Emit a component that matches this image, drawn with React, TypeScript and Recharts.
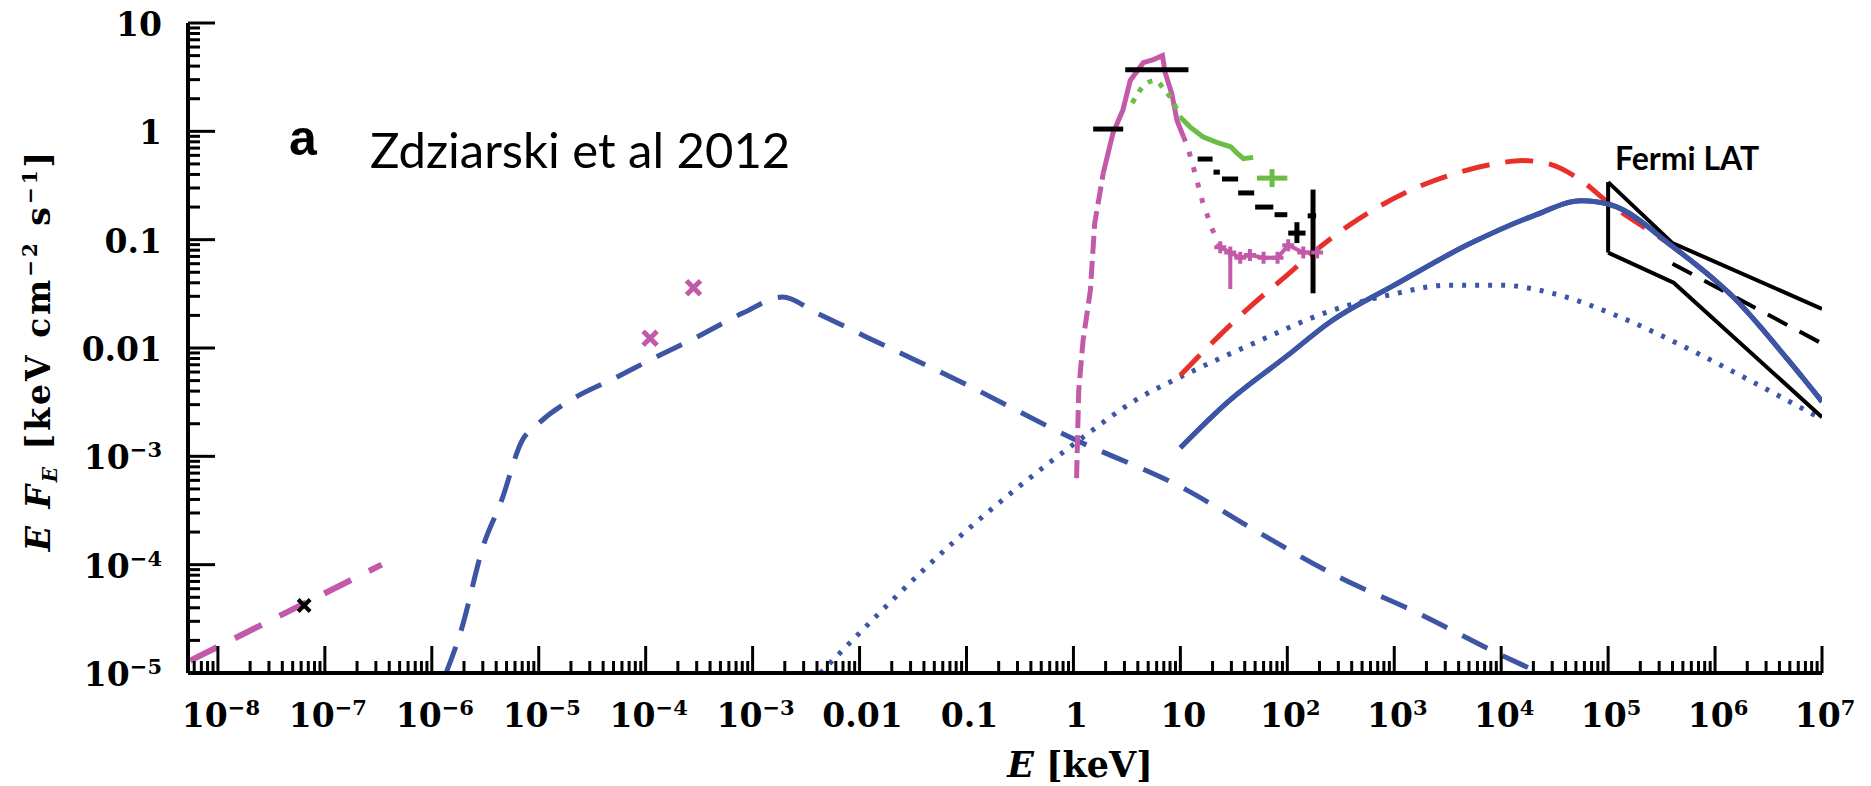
import React from 'react';
import { ComposedChart, Line, Scatter, XAxis, YAxis } from 'recharts';

const W = 1871;
const H = 786;
const X_MIN = 5.25e-9;
const X_MAX = 1e7;
const Y_MIN = 1e-5;
const Y_MAX = 10;

const BLUE = '#3c55a5';
const MAGENTA = '#c35aa9';
const RED = '#e8302a';
const GREEN = '#6cbd46';
const INK = '#000';
const SERIF = '"DejaVu Serif", serif';

// tick labels (decades)
const xTickPow = [-8, -7, -6, -5, -4, -3, -2, -1, 0, 1, 2, 3, 4, 5, 6, 7];
const xTickLabels = ['10^-8', '10^-7', '10^-6', '10^-5', '10^-4', '10^-3', '0.01', '0.1', '1', '10', '10^2', '10^3', '10^4', '10^5', '10^6', '10^7'];
const yTickPow = [-5, -4, -3, -2, -1, 0, 1];
const yTickLabels = ['10^-5', '10^-4', '10^-3', '0.01', '0.1', '1', '10'];

// [E keV, E F_E]
const opticalPL: [number, number][] = [[5.5e-9, 1.3e-5], [3.4e-7, 1.0e-4]];
const opticalPoint: [number, number][] = [[6.4e-8, 4.2e-5]];
const irPoints: [number, number][] = [[1.1e-4, 0.0123], [2.8e-4, 0.036]];

const jetSync: [number, number][] = [
  [1.36e-6, 1.0e-5], [1.84e-6, 2.3e-5], [3.1e-6, 1.6e-4], [4.4e-6, 3.7e-4], [7.0e-6, 1.4e-3],
  [9.9e-6, 2.0e-3], [2.2e-5, 3.5e-3], [5.0e-5, 5.2e-3], [1.2e-4, 8.1e-3], [3.0e-4, 0.0126],
  [8.1e-4, 0.021], [1.9e-3, 0.0295], [4.0e-3, 0.021], [0.0117, 0.0126], [0.091, 4.8e-3],
  [0.93, 1.5e-3], [11.4, 4.9e-4], [49, 2.1e-4], [294, 7.8e-5], [1740, 3.5e-5], [9500, 1.5e-5], [2.3e4, 1.0e-5],
];

const comptonDotted: [number, number][] = [
  [4.3e-3, 1.0e-5], [0.091, 1.9e-4], [1.1, 1.38e-3], [4, 3.4e-3], [10, 5.4e-3], [50, 0.0112],
  [251, 0.0219], [1000, 0.0316], [3160, 0.038], [1e4, 0.038], [3.16e4, 0.0316], [1.26e5, 0.0195],
  [6.3e5, 9.3e-3], [2.5e6, 4.6e-3], [1e7, 2.2e-3],
];

const comptonSolid: [number, number][] = [
  [10, 1.2e-3], [28, 3.2e-3], [100, 8.5e-3], [251, 0.0174], [1000, 0.038], [5000, 0.091],
  [2.0e4, 0.166], [5.6e4, 0.229], [1.07e5, 0.209], [4.1e5, 0.085], [1.48e6, 0.0295], [4.8e6, 7.8e-3], [1e7, 3.2e-3],
];

const hadronic: [number, number][] = [
  [10, 5.6e-3], [22.4, 0.0126], [44.7, 0.024], [91, 0.0437], [174, 0.076], [363, 0.132], [708, 0.2],
  [1585, 0.3], [3980, 0.417], [1e4, 0.513], [1.58e4, 0.537], [2.8e4, 0.5], [5.2e4, 0.37], [1.07e5, 0.209],
  [4.1e5, 0.085], [1.48e6, 0.0295], [4.8e6, 7.8e-3], [1e7, 3.2e-3],
];

// X-ray spectrum
const xrayRise: [number, number][] = [[1.07, 6.3e-4], [1.12, 4.0e-3], [1.23, 0.0117], [1.44, 0.034], [1.58, 0.141], [1.9, 0.41]];
const xrayPeak: [number, number][] = [
  [1.9, 0.41], [2.34, 0.96], [2.9, 1.57], [3.4, 2.95], [4.5, 4.3], [5.6, 4.6], [6.8, 5.0],
  [7.2, 3.5], [8.3, 2.24], [9.3, 1.26], [10.7, 0.89],
];
const xrayFall: [number, number][] = [[10.7, 0.89], [11.7, 0.72], [13.2, 0.47], [16.2, 0.22], [20, 0.123], [23.6, 0.085]];
const xrayHard: [number, number][] = [
  [23.6, 0.085], [29.3, 0.076], [36.3, 0.068], [44.7, 0.072], [60, 0.068], [81, 0.068], [102, 0.089], [141, 0.076], [190, 0.076],
];
const xrayHardBar: [number, number][] = [[29.3, 0.076], [29.3, 0.035]];

const softTailPeak: [number, number][] = [[3.55, 1.82], [4.0, 2.24], [4.9, 2.8], [5.9, 2.95], [6.9, 2.5], [8.1, 2.04], [10, 1.35]];
const softTail: [number, number][] = [
  [10, 1.35], [12.3, 1.1], [16.2, 0.89], [21.9, 0.79], [29.5, 0.72], [33.9, 0.63], [38.9, 0.56], [47.9, 0.575],
];
const softCross = { e: 72, f: 0.37, eLo: 52, eHi: 100 };

// [E lo, E hi, E F_E]
const blackBins: [number, number, number][] = [
  [1.53, 2.92, 1.05], [3.05, 11.9, 3.7], [14.5, 20, 0.555], [20.4, 23.4, 0.42],
  [24.5, 34.7, 0.363], [34.7, 49, 0.27], [50, 74, 0.2], [76, 100, 0.17],
];
const blackCross = { e: 123, f: 0.115, eLo: 102, eHi: 148, fLo: 0.093, fHi: 0.145 };
const blackBar = { e: 174, f: 0.166, fLo: 0.032, fHi: 0.29, eLo: 155, eHi: 186 };

// Fermi LAT butterfly
const fermiUpper: [number, number][] = [[1e5, 0.34], [4e5, 0.093], [1e7, 0.023]];
const fermiLower: [number, number][] = [[1e5, 0.076], [4.1e5, 0.04], [1e7, 0.0023]];
const fermiEdge: [number, number][] = [[1e5, 0.076], [1e5, 0.34]];
const fermiFit: [number, number][] = [[4e5, 0.06], [1e7, 0.011]];

const pts = (arr: [number, number][]) => arr.map(([e, f]) => ({ e, f }));

const logTicks = (lo: number, hi: number) => {
  const out: number[] = [];
  for (let p = Math.floor(Math.log10(lo)); p <= Math.ceil(Math.log10(hi)); p++) {
    for (let m = 1; m <= 9; m++) {
      const v = m * Math.pow(10, p);
      if (v >= lo * 0.9999 && v <= hi * 1.0001) out.push(v);
    }
  }
  return out;
};
const xTicks = logTicks(X_MIN, X_MAX);
const yTicks = logTicks(Y_MIN, Y_MAX);

const decade = (v: number) => {
  const l = Math.log10(v);
  return Math.abs(l - Math.round(l)) < 1e-6 ? Math.round(l) : null;
};

const MAJOR = 27;
const MINOR = 12;

function PowText({ x, y, text, anchor }: { x: number; y: number; text: string; anchor: 'start' | 'middle' | 'end' }) {
  const [base, exp] = text.split('^');
  return (
    <text x={x} y={y} textAnchor={anchor} fontFamily={SERIF} fontWeight="bold" fontSize={33} fill={INK}>
      {base}
      {exp !== undefined && (
        <tspan dy={-12} fontSize={21}>
          {exp.replace('-', '\u2212')}
        </tspan>
      )}
    </text>
  );
}

const bottomTick = (props: any) => {
  const { x, y, payload } = props;
  const d = decade(payload.value);
  const i = d === null ? -1 : xTickPow.indexOf(d);
  return (
    <g>
      <line x1={x} y1={y} x2={x} y2={y - (d !== null ? MAJOR : MINOR)} stroke={INK} strokeWidth={3} />
      {i >= 0 && <PowText x={x + 3} y={y + 54} text={xTickLabels[i]} anchor="middle" />}
    </g>
  );
};

const topTick = (props: any) => {
  const { x, y, payload } = props;
  const d = decade(payload.value);
  return <line x1={x} y1={y} x2={x} y2={y + (d !== null ? MAJOR : MINOR)} stroke={INK} strokeWidth={3} />;
};

const leftTick = (props: any) => {
  const { x, y, payload } = props;
  const d = decade(payload.value);
  const i = d === null ? -1 : yTickPow.indexOf(d);
  return (
    <g>
      <line x1={x} y1={y} x2={x + (d !== null ? MAJOR : MINOR)} y2={y} stroke={INK} strokeWidth={3} />
      {i >= 0 && <PowText x={x - 26} y={y + 13} text={yTickLabels[i]} anchor="end" />}
    </g>
  );
};

const rightTick = (props: any) => {
  const { x, y, payload } = props;
  const d = decade(payload.value);
  return <line x1={x} y1={y} x2={x - (d !== null ? MAJOR : MINOR)} y2={y} stroke={INK} strokeWidth={3} />;
};

const crossMark = (color: string, r: number, w: number) => (p: any) => (
  <path d={`M${p.cx - r},${p.cy - r}L${p.cx + r},${p.cy + r}M${p.cx - r},${p.cy + r}L${p.cx + r},${p.cy - r}`} stroke={color} strokeWidth={w} />
);

const plusMark = (color: string, rx: number, ry: number, w: number) => (p: any) => (
  <path d={`M${p.cx - rx},${p.cy}L${p.cx + rx},${p.cy}M${p.cx},${p.cy - ry}L${p.cx},${p.cy + ry}`} stroke={color} strokeWidth={w} />
);

const axisLine = { stroke: INK, strokeWidth: 4 };

export default function App() {
  const curve = (key: string, data: { e: number; f: number }[], color: string, width: number, dash?: string, type: 'linear' | 'monotone' = 'monotone') => (
    <Line
      key={key}
      data={data}
      dataKey="f"
      xAxisId="b"
      yAxisId="l"
      type={type}
      stroke={color}
      strokeWidth={width}
      strokeDasharray={dash}
      dot={false}
      activeDot={false}
      isAnimationActive={false}
    />
  );

  return (
    <div style={{ position: 'absolute', left: 0, top: 0, width: W, height: H, background: '#fff' }}>
      <ComposedChart width={W} height={H} margin={{ top: 23, right: 49, bottom: 0, left: 0 }}>
        <XAxis xAxisId="b" orientation="bottom" dataKey="e" type="number" scale="log" domain={[X_MIN, X_MAX]} allowDataOverflow
          ticks={xTicks} interval={0} tickSize={0} tickMargin={0} height={113} axisLine={axisLine} tickLine={false} tick={bottomTick} />
        <XAxis xAxisId="t" orientation="top" dataKey="e" type="number" scale="log" domain={[X_MIN, X_MAX]} allowDataOverflow
          ticks={xTicks} interval={0} tickSize={0} tickMargin={0} height={0} axisLine={axisLine} tickLine={false} tick={topTick} />
        <YAxis yAxisId="l" orientation="left" dataKey="f" type="number" scale="log" domain={[Y_MIN, Y_MAX]} allowDataOverflow
          ticks={yTicks} interval={0} tickSize={0} tickMargin={0} width={188} axisLine={axisLine} tickLine={false} tick={leftTick} />
        <YAxis yAxisId="r" orientation="right" dataKey="f" type="number" scale="log" domain={[Y_MIN, Y_MAX]} allowDataOverflow
          ticks={yTicks} interval={0} tickSize={0} tickMargin={0} width={0} axisLine={axisLine} tickLine={false} tick={rightTick} />

        {curve('optical', pts(opticalPL), MAGENTA, 6, '30 20', 'linear')}
        {curve('jet', pts(jetSync), BLUE, 5, '28 17')}
        {curve('dotted', pts(comptonDotted), BLUE, 5, '4 9')}
        {curve('hadronic', pts(hadronic), RED, 5, '28 16')}
        {curve('solid', pts(comptonSolid), BLUE, 5)}

        {curve('xrise', pts(xrayRise), MAGENTA, 5, '18 7', 'linear')}
        {curve('xpeak', pts(xrayPeak), MAGENTA, 5, undefined, 'linear')}
        {curve('xfall', pts(xrayFall), MAGENTA, 5, '5 11', 'linear')}
        {curve('xhard', pts(xrayHard), MAGENTA, 4, undefined, 'linear')}
        {curve('xbar', pts(xrayHardBar), MAGENTA, 4, undefined, 'linear')}
        <Scatter data={pts(xrayHard)} xAxisId="b" yAxisId="l" shape={plusMark(MAGENTA, 6, 6, 4)} isAnimationActive={false} />

        {curve('gpeak', pts(softTailPeak), GREEN, 5, '5 8')}
        {curve('gtail', pts(softTail), GREEN, 5, undefined, 'linear')}
        {curve('gcrossH', [{ e: softCross.eLo, f: softCross.f }, { e: softCross.eHi, f: softCross.f }], GREEN, 5, undefined, 'linear')}
        <Scatter data={[{ e: softCross.e, f: softCross.f }]} xAxisId="b" yAxisId="l" shape={plusMark(GREEN, 0, 9, 5)} isAnimationActive={false} />

        {blackBins.map(([lo, hi, f], i) => curve(`bin${i}`, [{ e: lo, f }, { e: hi, f }], INK, 5, undefined, 'linear'))}
        {curve('bcH', [{ e: blackCross.eLo, f: blackCross.f }, { e: blackCross.eHi, f: blackCross.f }], INK, 5, undefined, 'linear')}
        {curve('bcV', [{ e: blackCross.e, f: blackCross.fLo }, { e: blackCross.e, f: blackCross.fHi }], INK, 5, undefined, 'linear')}
        {curve('bbV', [{ e: blackBar.e, f: blackBar.fLo }, { e: blackBar.e, f: blackBar.fHi }], INK, 5, undefined, 'linear')}
        {curve('bbH', [{ e: blackBar.eLo, f: blackBar.f }, { e: blackBar.eHi, f: blackBar.f }], INK, 5, undefined, 'linear')}

        {curve('fu', pts(fermiUpper), INK, 4, undefined, 'linear')}
        {curve('fl', pts(fermiLower), INK, 4, undefined, 'linear')}
        {curve('fe', pts(fermiEdge), INK, 4, undefined, 'linear')}
        {curve('ff', pts(fermiFit), INK, 4, '22 14', 'linear')}
        {curve('solidTop', pts(comptonSolid), BLUE, 5)}

        <Scatter data={pts(opticalPoint)} xAxisId="b" yAxisId="l" shape={crossMark(INK, 6, 4)} isAnimationActive={false} />
        <Scatter data={pts(irPoints)} xAxisId="b" yAxisId="l" shape={crossMark(MAGENTA, 7, 5)} isAnimationActive={false} />
      </ComposedChart>

      <svg width={W} height={H} style={{ position: 'absolute', left: 0, top: 0, pointerEvents: 'none' }}>
        <text x={303} y={155} textAnchor="middle" fontFamily='"Liberation Sans", sans-serif' fontWeight="bold" fontSize={50}>a</text>
        <text x={370} y={168} fontFamily="Lato, sans-serif" fontSize={49}>Zdziarski et al 2012</text>
        <text x={1615} y={170} fontFamily="Lato, sans-serif" fontWeight="bold" fontSize={32}>Fermi LAT</text>
        <text x={1080} y={777} textAnchor="middle" fontFamily={SERIF} fontWeight="bold" fontSize={35}>
          <tspan fontStyle="italic">E</tspan>
          <tspan> [keV]</tspan>
        </text>
        <text transform="translate(50,350) rotate(-90)" textAnchor="middle" fontFamily={SERIF} fontWeight="bold" fontSize={33} letterSpacing={3}>
          <tspan fontStyle="italic">E F</tspan>
          <tspan fontStyle="italic" fontSize={20} dy={7}>E</tspan>
          <tspan dy={-7}> [keV cm</tspan>
          <tspan fontSize={20} dy={-13}>{'\u22122'}</tspan>
          <tspan dy={13}> s</tspan>
          <tspan fontSize={20} dy={-13}>{'\u22121'}</tspan>
          <tspan dy={13}>]</tspan>
        </text>
      </svg>
    </div>
  );
}
